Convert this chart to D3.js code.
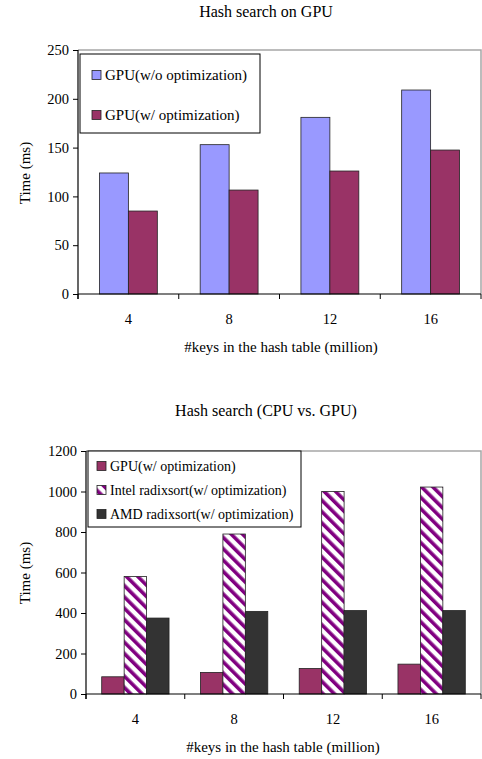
<!DOCTYPE html>
<html><head><meta charset="utf-8">
<script src="https://cdn.jsdelivr.net/npm/d3@7"></script>
<style>
body{margin:0;background:#fff;}
svg text{font-family:"Liberation Serif","Times New Roman",serif;fill:#000;}
</style></head>
<body>
<svg id="c" width="482" height="759"></svg>
<script>
const categories = ["4","8","12","16"];
const gpuNoOpt = [124, 153, 181, 209];
const gpuOpt = [85, 106.5, 126, 147.5];
const intelRadix = [580, 790, 1000, 1022];
const amdRadix = [375, 408, 412, 412];
const ticks1 = [0,50,100,150,200,250];
const ticks2 = [0,200,400,600,800,1000,1200];
const title1 = "Hash search on GPU";
const title2 = "Hash search (CPU vs. GPU)";
const xTitle = "#keys in the hash table (million)";
const yTitle = "Time (ms)";

const svg = d3.select("#c");
const defs = svg.append("defs");
const pat = defs.append("pattern").attr("id","hatch").attr("patternUnits","userSpaceOnUse")
  .attr("width",8).attr("height",8).attr("patternTransform","rotate(-45)");
pat.append("rect").attr("width",8).attr("height",8).attr("fill","#fff");
pat.append("rect").attr("x",0).attr("width",3.6).attr("height",8).attr("fill","#800080");

function chart(cfg){
  const g = svg.append("g");
  const x = d3.scaleBand().domain(categories).range([cfg.left, cfg.right]).paddingInner(0).paddingOuter(0);
  const y = d3.scaleLinear().domain([0, cfg.max]).range([cfg.bottom, cfg.top]);
  g.append("path").attr("d",`M${cfg.left},${cfg.top}H${cfg.right}V${cfg.bottom}`)
    .attr("fill","none").attr("stroke","#a6a6a6").attr("stroke-width",1.5);
  const inner = d3.scaleBand().domain(d3.range(cfg.series.length)).range([0, x.bandwidth()]).paddingInner(0).paddingOuter(cfg.outerPad);
  cfg.series.forEach((s,si)=>{
    g.selectAll(null).data(s.values).join("rect")
      .attr("x",(d,i)=>x(categories[i])+inner(si))
      .attr("y",d=>y(d))
      .attr("width",inner.bandwidth())
      .attr("height",d=>y(0)-y(d))
      .attr("fill",s.fill).attr("stroke","#222").attr("stroke-width",0.8);
  });
  const ya = g.append("g").attr("transform",`translate(${cfg.left},0)`)
    .call(d3.axisLeft(y).tickValues(cfg.ticks).tickFormat(d3.format("d")).tickSize(5).tickPadding(4));
  ya.select(".domain").attr("d",`M0,${cfg.top}V${cfg.bottom+5}`).attr("stroke","#000").attr("stroke-width",1.2);
  ya.selectAll("text").style("font-size","14.5px").style("font-family","Liberation Serif");
  const xa = g.append("g").attr("transform",`translate(0,${cfg.bottom})`);
  xa.append("line").attr("x1",cfg.left).attr("x2",cfg.right).attr("stroke","#000").attr("stroke-width",1.2);
  const bounds = categories.map(c=>x(c)).concat([cfg.right]);
  xa.selectAll(null).data(bounds).join("line").attr("x1",d=>d).attr("x2",d=>d).attr("y1",0).attr("y2",5).attr("stroke","#000");
  xa.selectAll(null).data(categories).join("text").attr("x",d=>x(d)+x.bandwidth()/2).attr("y",cfg.tickY-cfg.bottom)
    .attr("text-anchor","middle").attr("dominant-baseline","central").style("font-size","14.5px").text(d=>d);
  g.append("text").attr("x",cfg.xTitleX).attr("y",cfg.xTitleY).attr("text-anchor","middle").attr("dominant-baseline","central")
    .style("font-size","15px").text(xTitle);
  g.append("text").attr("transform",`translate(25,${cfg.yTitleY}) rotate(-90)`).attr("text-anchor","middle").attr("dominant-baseline","central")
    .style("font-size","15px").text(yTitle);
  g.append("text").attr("x",266).attr("y",cfg.titleY).attr("text-anchor","middle").attr("dominant-baseline","central")
    .style("font-size","16px").text(cfg.title);
  const L = cfg.legend;
  g.append("rect").attr("x",L.x).attr("y",L.y).attr("width",L.w).attr("height",L.h).attr("fill","#fff").attr("stroke","#000").attr("stroke-width",1);
  cfg.series.forEach((s,si)=>{
    const cy = L.items[si];
    g.append("rect").attr("x",L.sx).attr("y",cy-4.5).attr("width",9).attr("height",9).attr("fill",s.fill).attr("stroke","#222").attr("stroke-width",0.8);
    g.append("text").attr("x",L.tx).attr("y",cy).attr("dominant-baseline","central").style("font-size",L.fs+"px").text(s.name);
  });
}

chart({left:78,right:481,top:50,bottom:294,max:250,ticks:ticks1,outerPad:0.74,
  tickY:319,xTitleX:281,xTitleY:347,yTitleY:173,titleY:11,title:title1,
  series:[{name:"GPU(w/o optimization)",values:gpuNoOpt,fill:"#9999ff"},
          {name:"GPU(w/ optimization)",values:gpuOpt,fill:"#993366"}],
  legend:{x:80,y:54,w:180,h:79,sx:92,tx:105,fs:15,items:[75,115]}});

chart({left:86,right:481,top:451,bottom:694,max:1200,ticks:ticks2,outerPad:0.7,
  tickY:719,xTitleX:283,xTitleY:747,yTitleY:573,titleY:410,title:title2,
  series:[{name:"GPU(w/ optimization)",values:gpuOpt,fill:"#993366"},
          {name:"Intel radixsort(w/ optimization)",values:intelRadix,fill:"url(#hatch)"},
          {name:"AMD radixsort(w/ optimization)",values:amdRadix,fill:"#333333"}],
  legend:{x:88,y:451,w:213,h:76,sx:97,tx:110,fs:14,items:[466,490,514]}});
</script>
</body></html>
